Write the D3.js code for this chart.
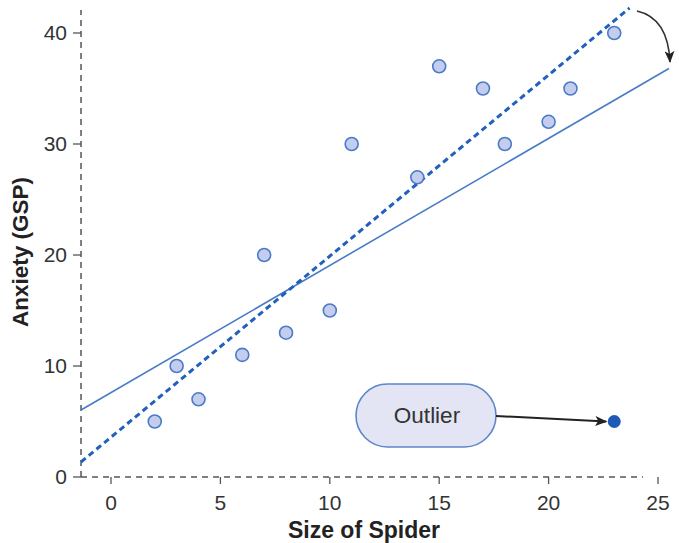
<!DOCTYPE html>
<html><head><meta charset="utf-8">
<script src="https://cdn.jsdelivr.net/npm/d3@7"></script>
<style>body{margin:0;background:#fff}</style>
</head><body>
<svg id="c" width="679" height="543"></svg>
<script>
const sizes   = [2,3,4,6,7,8,10,11,14,15,17,18,20,21,23];
const anxiety = [5,10,7,11,20,13,15,30,27,37,35,30,32,35,40];
const outlier = {x:23, y:5};
const xTicks = [0,5,10,15,20,25];
const yTicks = [0,10,20,30,40];
// fitted lines [x1,y1,x2,y2] in data units
const fitWithOutlier = [-1.37, 6.04, 25.5, 36.8];
const fitWithoutOutlier = [-1.37, 1.35, 23.7, 42.25];

const svg = d3.select('#c');
const x = d3.scaleLinear().domain([0,25]).range([111,658]);
const y = d3.scaleLinear().domain([0,40]).range([477,33]);
const x0 = -1.37;
const font = 'Helvetica, Arial, "Liberation Sans", sans-serif';
const axisCol = '#555';

// axes lines
svg.append('line').attr('x1',x(x0)).attr('x2',x(x0)).attr('y1',y(0)).attr('y2',10)
  .attr('stroke',axisCol).attr('stroke-width',1.5).attr('stroke-dasharray','6,5');
svg.append('line').attr('x1',x(x0)).attr('x2',643).attr('y1',y(0)).attr('y2',y(0))
  .attr('stroke',axisCol).attr('stroke-width',1.5).attr('stroke-dasharray','6,5');

// y ticks
const yg = svg.append('g');
yTicks.forEach(t=>{
  yg.append('line').attr('x1',x(x0)-8).attr('x2',x(x0)).attr('y1',y(t)).attr('y2',y(t)).attr('stroke',axisCol).attr('stroke-width',1.3);
  yg.append('text').attr('x',x(x0)-14).attr('y',y(t)).attr('dy','0.35em').attr('text-anchor','end')
    .attr('font-family',font).attr('font-size',21).attr('fill','#333').text(t);
});
// x ticks
xTicks.forEach(t=>{
  svg.append('line').attr('x1',x(t)).attr('x2',x(t)).attr('y1',y(0)).attr('y2',y(0)+7).attr('stroke',axisCol).attr('stroke-width',1.3);
  svg.append('text').attr('x',x(t)).attr('y',y(0)+33).attr('text-anchor','middle')
    .attr('font-family',font).attr('font-size',21).attr('fill','#333').text(t);
});
// axis titles
svg.append('text').attr('x',364).attr('y',538).attr('text-anchor','middle')
  .attr('font-family',font).attr('font-size',23).attr('font-weight','bold').attr('fill','#222').text('Size of Spider');
svg.append('text').attr('transform','translate(28,252) rotate(-90)').attr('text-anchor','middle')
  .attr('font-family',font).attr('font-size',22.5).attr('font-weight','bold').attr('fill','#222').text('Anxiety (GSP)');

// fit lines
svg.append('line').attr('x1',x(fitWithOutlier[0])).attr('y1',y(fitWithOutlier[1]))
  .attr('x2',x(fitWithOutlier[2])).attr('y2',y(fitWithOutlier[3]))
  .attr('stroke','#4a7bc8').attr('stroke-width',1.6);
svg.append('line').attr('x1',x(fitWithoutOutlier[0])).attr('y1',y(fitWithoutOutlier[1]))
  .attr('x2',x(fitWithoutOutlier[2])).attr('y2',y(fitWithoutOutlier[3]))
  .attr('stroke','#2160bd').attr('stroke-width',3).attr('stroke-dasharray','6,4');

// points
svg.selectAll('circle.pt').data(sizes.map((s,i)=>({x:s,y:anxiety[i]}))).join('circle')
  .attr('class','pt').attr('cx',d=>x(d.x)).attr('cy',d=>y(d.y)).attr('r',6.5)
  .attr('fill','#c5cdee').attr('stroke','#4a7bc8').attr('stroke-width',1.6);

// defs arrow
const defs = svg.append('defs');
defs.append('marker').attr('id','ah').attr('viewBox','0 0 12 10').attr('refX',11).attr('refY',5)
  .attr('markerWidth',12).attr('markerHeight',10).attr('markerUnits','userSpaceOnUse').attr('orient','auto')
  .append('path').attr('d','M0,0 L12,5 L0,10 L3,5 Z').attr('fill','#222');

// outlier box
svg.append('rect').attr('x',356).attr('y',384).attr('width',140).attr('height',63).attr('rx',31.5)
  .attr('fill','#e3e5f5').attr('stroke','#5b87c9').attr('stroke-width',1.6);
svg.append('text').attr('x',427).attr('y',415).attr('dy','0.35em').attr('text-anchor','middle')
  .attr('font-family',font).attr('font-size',22.5).attr('fill','#333').text('Outlier');
svg.append('line').attr('x1',496).attr('y1',416).attr('x2',x(outlier.x)-8).attr('y2',y(outlier.y))
  .attr('stroke','#222').attr('stroke-width',2).attr('marker-end','url(#ah)');
svg.append('circle').attr('cx',x(outlier.x)).attr('cy',y(outlier.y)).attr('r',6.5).attr('fill','#1f5bb5');

// curved arrow
svg.append('path').attr('d','M637,11 Q668,18 670,62').attr('fill','none')
  .attr('stroke','#333').attr('stroke-width',1.6).attr('marker-end','url(#ah)');
</script>
</body></html>
